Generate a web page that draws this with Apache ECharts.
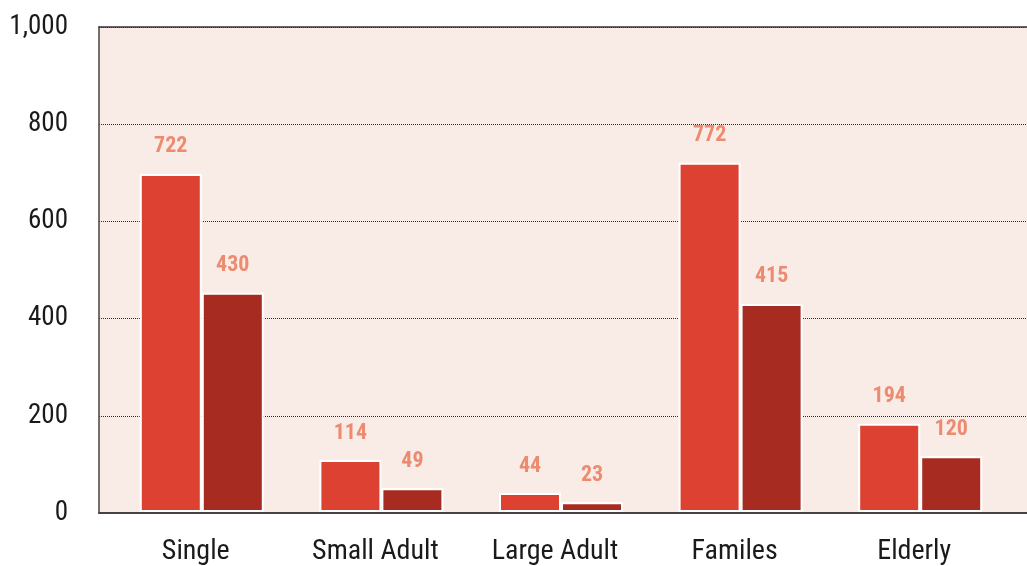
<!DOCTYPE html>
<html>
<head>
<meta charset="utf-8">
<script src="https://cdn.jsdelivr.net/npm/echarts@6/dist/echarts.min.js"></script>
<style>
html,body{margin:0;padding:0;background:#fff;}
#chart{width:1027px;height:566px;}
</style>
</head>
<body>
<div id="chart"></div>
<script>
// Data
var categories = ['Single', 'Small Adult', 'Large Adult', 'Familes', 'Elderly'];
var seriesA = [697, 107, 39, 720, 182];      // bar heights
var seriesB = [452, 49, 20, 429, 115];
var labelsA = ['722', '114', '44', '772', '194']; // printed labels
var labelsB = ['430', '49', '23', '415', '120'];
var yTicks = [0, 200, 400, 600, 800, 1000];

var FONT = "'Roboto Condensed','Liberation Sans Narrow','Roboto',sans-serif";
var chart = echarts.init(document.getElementById('chart'), null, {renderer: 'canvas'});

function lbl(arr) {
  return {
    show: true, position: 'top', distance: 16,
    formatter: function (p) { return arr[p.dataIndex]; },
    color: '#ec8b70', fontFamily: FONT, fontWeight: 'bold', fontSize: 22
  };
}

var option = {
  backgroundColor: '#ffffff',
  animation: false,
  grid: [
    {left: 99, right: 0, top: 27, bottom: 53, show: true, backgroundColor: '#f9ece7', borderWidth: 0},
    {left: 112, right: 17, top: 27, bottom: 53}
  ],
  xAxis: [
    {gridIndex: 0, type: 'value', min: 0, max: 1, position: 'bottom',
      axisLine: {show: true, lineStyle: {color: '#4a4242', width: 2}},
      axisTick: {show: false}, axisLabel: {show: false}, splitLine: {show: false}},
    {gridIndex: 0, type: 'value', min: 0, max: 1, position: 'top',
      axisLine: {show: true, lineStyle: {color: '#3a3232', width: 1.5}},
      axisTick: {show: false}, axisLabel: {show: false}, splitLine: {show: false}},
    {gridIndex: 1, type: 'category', data: categories,
      axisLine: {show: false}, axisTick: {show: false},
      axisLabel: {color: '#1a1a1a', fontFamily: FONT, fontWeight: 'normal', fontSize: 28, margin: 26,
        padding: [0, 12, 0, 0]}}
  ],
  yAxis: [
    {gridIndex: 0, type: 'value', min: 0, max: 1000, interval: 200,
      axisLine: {show: true, lineStyle: {color: '#4a4242', width: 1.5}},
      axisTick: {show: false},
      axisLabel: {color: '#1a1a1a', fontFamily: FONT, fontWeight: 'normal', fontSize: 27, margin: 31,
        verticalAlign: 'middle', padding: [0, 0, 3, 0],
        formatter: function (v) { return yTicks.indexOf(v) >= 0 ? v.toLocaleString('en-US') : ''; }},
      splitLine: {show: true, lineStyle: {color: '#2a2a2a', type: [1, 1], width: 1}}},
    {gridIndex: 1, type: 'value', min: 0, max: 1000, interval: 200, show: false}
  ],
  series: [
    {type: 'bar', xAxisIndex: 2, yAxisIndex: 1, data: seriesA, barWidth: 62, barGap: '0%',
      itemStyle: {color: '#dd4131', borderColor: '#ffffff', borderWidth: 2},
      label: lbl(labelsA)},
    {type: 'bar', xAxisIndex: 2, yAxisIndex: 1, data: seriesB, barWidth: 62, barGap: '0%',
      itemStyle: {color: '#a72b20', borderColor: '#ffffff', borderWidth: 2},
      label: lbl(labelsB)}
  ]
};
chart.setOption(option);
</script>
</body>
</html>
